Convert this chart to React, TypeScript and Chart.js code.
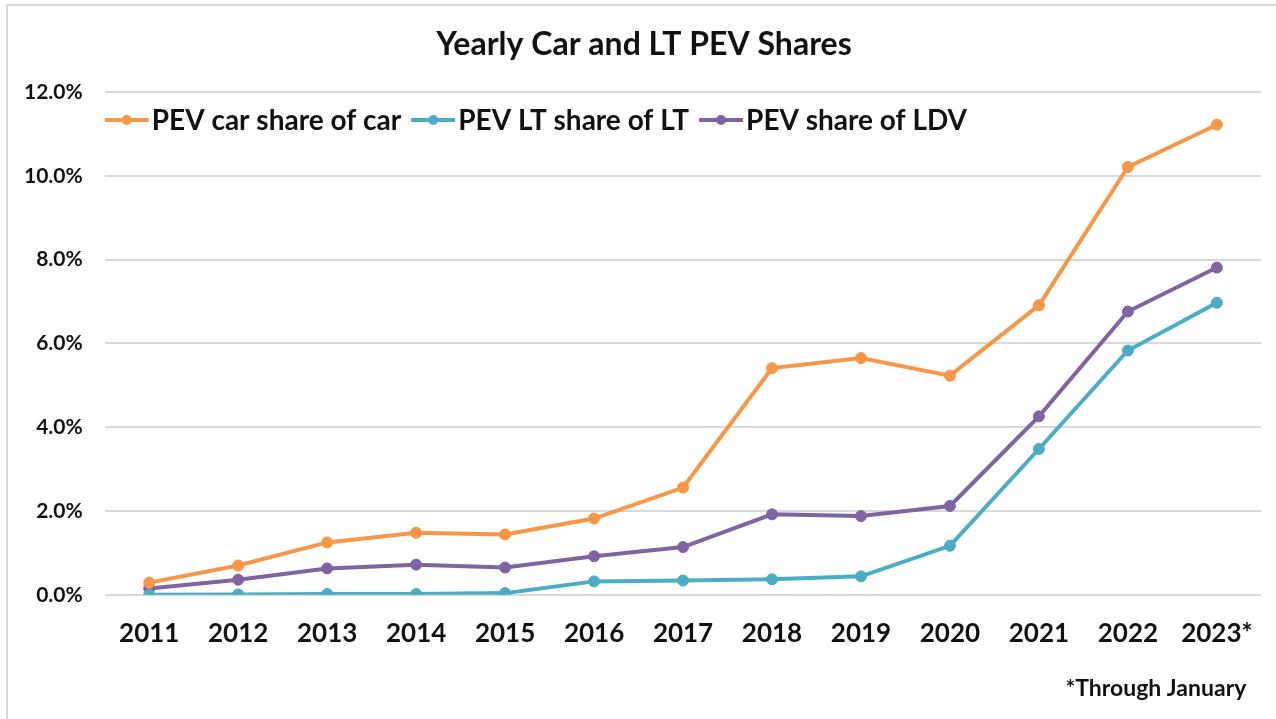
import { useEffect, useRef } from "react";
import { Chart, registerables } from "chart.js";

Chart.register(...registerables);

const years = ["2011", "2012", "2013", "2014", "2015", "2016", "2017", "2018", "2019", "2020", "2021", "2022", "2023*"];
const carShare = [0.29, 0.7, 1.25, 1.48, 1.44, 1.82, 2.56, 5.41, 5.65, 5.23, 6.91, 10.21, 11.22];
const ltShare = [0.0, 0.01, 0.02, 0.02, 0.04, 0.32, 0.34, 0.37, 0.44, 1.17, 3.48, 5.83, 6.97];
const ldvShare = [0.15, 0.36, 0.63, 0.72, 0.65, 0.92, 1.14, 1.92, 1.88, 2.12, 4.26, 6.76, 7.81];
const seriesNames = ["PEV car share of car", "PEV LT share of LT", "PEV share of LDV"];
const seriesColors = ["#F79646", "#4BACC6", "#8064A2"];
const titleText = "Yearly Car and LT PEV Shares";
const noteText = "*Through January";

const FONT = "Lato, 'Open Sans', sans-serif";

const insideLegend = {
  id: "insideLegend",
  afterDraw(chart: any) {
    const ctx = chart.ctx as CanvasRenderingContext2D;
    const area = chart.chartArea;
    ctx.save();
    // title
    ctx.font = `bold 32px ${FONT}`;
    ctx.textBaseline = "middle";
    ctx.textAlign = "center";
    ctx.fillStyle = "#111";
    ctx.fillText(titleText, chart.width / 2 + 6, area.top - 47);
    // legend
    const y = area.top + 28;
    let x = area.left;
    ctx.font = `bold 28px ${FONT}`;
    ctx.textAlign = "left";
    chart.data.datasets.forEach((ds: any) => {
      const color = ds.borderColor;
      ctx.strokeStyle = color;
      ctx.lineWidth = 4;
      ctx.beginPath();
      ctx.moveTo(x, y);
      ctx.lineTo(x + 44, y);
      ctx.stroke();
      ctx.fillStyle = color;
      ctx.beginPath();
      ctx.arc(x + 22, y, 5, 0, Math.PI * 2);
      ctx.fill();
      ctx.fillStyle = "#111";
      ctx.fillText(ds.label, x + 47, y + 1);
      x += 47 + ctx.measureText(ds.label).width + 10;
    });
    // footnote
    ctx.font = `bold 23px ${FONT}`;
    ctx.textAlign = "right";
    ctx.fillText(noteText, area.right - 15, area.bottom + 94);
    ctx.restore();
  },
};

export default function App() {
  const ref = useRef<HTMLCanvasElement>(null);
  useEffect(() => {
    if (!ref.current) return;
    const data = [carShare, ltShare, ldvShare];
    const chart = new Chart(ref.current, {
      type: "line",
      data: {
        labels: years,
        datasets: data.map((d, i) => ({
          label: seriesNames[i],
          data: d,
          borderColor: seriesColors[i],
          backgroundColor: seriesColors[i],
          pointBackgroundColor: seriesColors[i],
          pointBorderColor: seriesColors[i],
          borderWidth: 4,
          pointRadius: 5.5,
          pointBorderWidth: 1,
          tension: 0,
        })),
      },
      options: {
        animation: false,
        responsive: false,
        maintainAspectRatio: false,
        layout: { padding: { top: 92, right: 12, bottom: 47, left: 2 } },
        plugins: {
          legend: { display: false },
          tooltip: { enabled: false },
          title: { display: false },
        },
        scales: {
          x: {
            offset: true,
            grid: { display: false, drawTicks: false },
            border: { display: false },
            ticks: {
              color: "#111",
              font: { family: FONT, size: 26, weight: "bold" },
              padding: 23,
              maxRotation: 0,
              autoSkip: false,
            },
          },
          y: {
            min: 0,
            max: 12,
            grid: { color: "#D9D9D9", lineWidth: 2, drawTicks: false },
            border: { display: false },
            ticks: {
              stepSize: 2,
              color: "#111",
              font: { family: FONT, size: 21, weight: "bold" },
              padding: 22,
              callback: (v: any) => Number(v).toFixed(1) + "%",
            },
          },
        },
      },
      plugins: [insideLegend],
    });
    return () => chart.destroy();
  }, []);
  return (
    <div style={{ position: "fixed", left: 0, top: 0, width: 1276, height: 719, background: "#fff" }}>
      <canvas ref={ref} width={1276} height={719} style={{ position: "absolute", left: 0, top: 0 }} />
      <div
        style={{
          position: "absolute",
          left: 6,
          top: 4,
          right: 0,
          bottom: 0,
          borderTop: "2px solid #D9D9D9",
          borderLeft: "2px solid #D9D9D9",
          pointerEvents: "none",
        }}
      />
    </div>
  );
}
